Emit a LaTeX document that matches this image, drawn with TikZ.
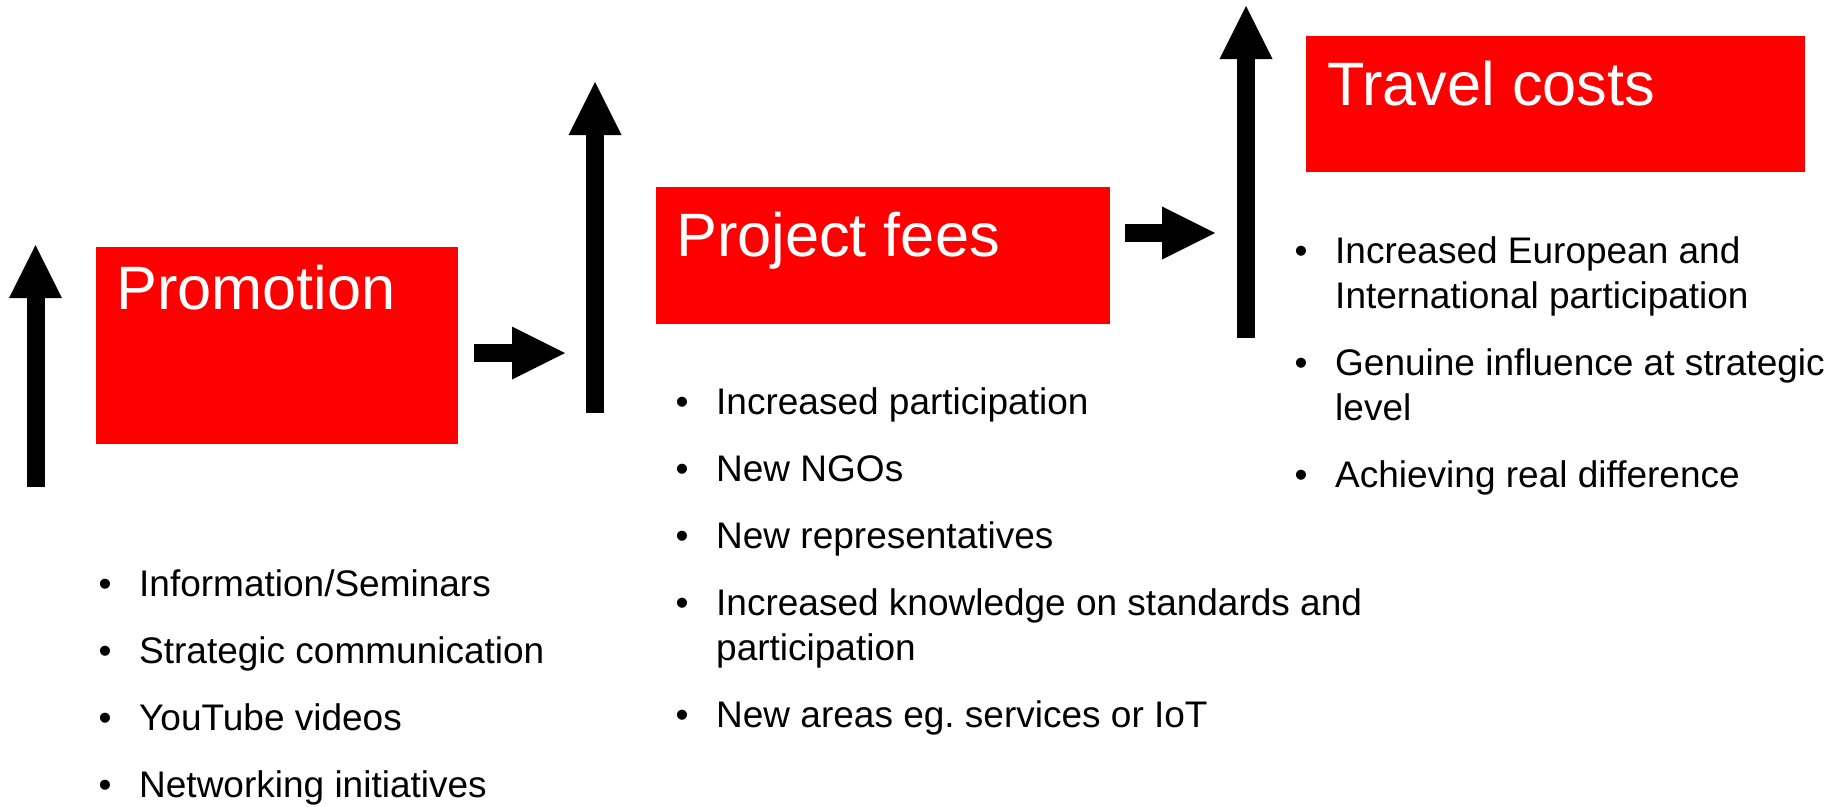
\documentclass[tikz,border=0pt]{standalone}
\usepackage{fontspec}
\setmainfont{Liberation Sans}
\usetikzlibrary{arrows.meta}

\newcommand{\bitem}{\makebox[40.5pt][l]{\textbullet}}
\newcommand{\bhang}{\hspace*{40.5pt}}

\tikzset{
  redbox/.style={draw=none, fill=red, rectangle, inner sep=0pt, anchor=north west},
  boxtitle/.style={text=white, inner sep=0pt, anchor=base west, font=\fontsize{61.3}{72}\selectfont},
  bulletlist/.style={inner sep=0pt, anchor=base west, align=left, font=\fontsize{37}{45}\selectfont},
  bigarrow/.style={line width=18pt, -{Triangle[length=53pt, width=53pt, line width=0pt]}}
}

\begin{document}
\begin{tikzpicture}[x=1pt, y=-1pt]
    \useasboundingbox (0,0) rectangle (1841,806);

    % boxes with their titles
    \node[redbox, minimum width=362pt, minimum height=197pt] (promo) at (96,247) {};
    \node[boxtitle] (promoT) at ([xshift=20pt, yshift=-62pt]promo.north west) {Promotion};

    \node[redbox, minimum width=454pt, minimum height=137pt] (fees) at (656,187) {};
    \node[boxtitle] (feesT) at ([xshift=20pt, yshift=-69pt]fees.north west) {Project fees};

    \node[redbox, minimum width=499pt, minimum height=136pt] (travel) at (1306,36) {};
    \node[boxtitle] (travelT) at ([xshift=21pt, yshift=-69pt]travel.north west) {Travel costs};

    % bullet lists (placed at the baseline of their last line)
    \node[bulletlist] (promoL) at (98.5,797) {\bitem Information/Seminars\\[22pt]
        \bitem Strategic communication\\[22pt]
        \bitem YouTube videos\\[22pt]
        \bitem Networking initiatives};

    \node[bulletlist] (feesL) at (675.5,727) {\bitem Increased participation\\[22pt]
        \bitem New NGOs\\[22pt]
        \bitem New representatives\\[22pt]
        \bitem Increased knowledge on standards and\\
        \bhang participation\\[22pt]
        \bitem New areas eg.\ services or IoT};

    \node[bulletlist] (travelL) at (1294.5,487) {\bitem Increased European and\\
        \bhang International participation\\[22pt]
        \bitem Genuine influence at strategic\\
        \bhang level\\[22pt]
        \bitem Achieving real difference};

    % arrows
    \coordinate (up1a) at (35.5,487);
    \coordinate (up1b) at (35.5,245);
    \coordinate (up2a) at (595,413);
    \coordinate (up2b) at (595,82);
    \coordinate (up3a) at (1246,338);
    \coordinate (up3b) at (1246,6);
    \coordinate (go1a) at (474,353);
    \coordinate (go1b) at (565,353);
    \coordinate (go2a) at (1125,233);
    \coordinate (go2b) at (1215,233);

    \draw[bigarrow] (up1a) -- (up1b);
    \draw[bigarrow] (go1a) -- (go1b);
    \draw[bigarrow] (up2a) -- (up2b);
    \draw[bigarrow] (go2a) -- (go2b);
    \draw[bigarrow] (up3a) -- (up3b);
\end{tikzpicture}
\end{document}
